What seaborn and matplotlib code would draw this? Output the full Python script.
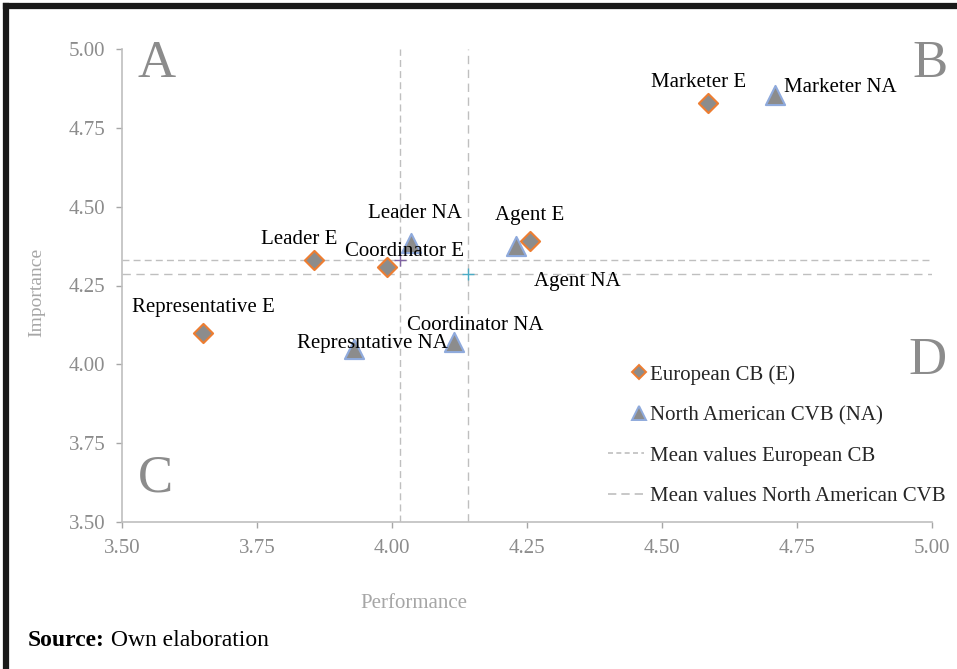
import numpy as np
import pandas as pd
import matplotlib
matplotlib.use("Agg")
import matplotlib.pyplot as plt
from matplotlib.lines import Line2D
from matplotlib.legend_handler import HandlerLine2DCompound
import seaborn as sns

# ---- data ----
roles_e = ["Representative E", "Leader E", "Coordinator E", "Agent E", "Marketer E"]
perf_e = [3.65, 3.855, 3.99, 4.255, 4.585]
imp_e = [4.10, 4.33, 4.31, 4.39, 4.83]

roles_na = ["Represntative NA", "Leader NA", "Coordinator NA", "Agent NA", "Marketer NA"]
perf_na = [3.93, 4.035, 4.115, 4.23, 4.71]
imp_na = [4.05, 4.385, 4.07, 4.375, 4.855]

mean_e = (4.015, 4.33)
mean_na = (4.14, 4.285)

x_ticks = [3.50, 3.75, 4.00, 4.25, 4.50, 4.75, 5.00]
y_ticks = [3.50, 3.75, 4.00, 4.25, 4.50, 4.75, 5.00]

legend_labels = ["European CB (E)", "North American CVB (NA)",
                 "Mean values European CB", "Mean values North American CVB"]

# label offsets in pixels (dx, dy)
off_e = [(0, 25), (-15, 21), (18, 15), (0, 26), (-9, 20)]
off_na = [(18, 5), (4, 29), (21, 17), (18, -35), (9, 7)]
ha_na = ["center", "center", "center", "left", "left"]

sns.set_theme(style="white")
plt.rcParams['font.family'] = ['Liberation Serif', 'DejaVu Serif']

W, H = 957, 669
fig = plt.figure(figsize=(W / 100, H / 100), dpi=100)
ax = fig.add_axes([122 / W, 1 - 522 / H, (932 - 122) / W, (522 - 49) / H])

df_e = pd.DataFrame({"perf": perf_e, "imp": imp_e, "role": roles_e})
df_na = pd.DataFrame({"perf": perf_na, "imp": imp_na, "role": roles_na})

grid_c = "#BFBFBF"
# mean lines
ax.axvline(mean_e[0], color=grid_c, lw=1.0, dashes=(5, 3), zorder=1)
ax.axhline(mean_e[1], color=grid_c, lw=1.0, dashes=(5, 3), zorder=1)
ax.axvline(mean_na[0], color=grid_c, lw=1.0, dashes=(6, 4), zorder=1)
ax.axhline(mean_na[1], color=grid_c, lw=1.0, dashes=(6, 4), zorder=1)
ax.plot([mean_e[0]], [mean_e[1]], marker="+", color="#8064A2", ms=8, mew=1.0, zorder=2)
ax.plot([mean_na[0]], [mean_na[1]], marker="+", color="#4BACC6", ms=8, mew=1.0, zorder=2)

sns.scatterplot(data=df_e, x="perf", y="imp", marker="D", s=95, color="#8C8C8C",
                edgecolor="#ED7D31", linewidth=1.5, ax=ax, zorder=3, legend=False)
sns.scatterplot(data=df_na, x="perf", y="imp", marker="^", s=190, color="#8C8C8C",
                edgecolor="#8FAADC", linewidth=1.5, ax=ax, zorder=3, legend=False)

px2pt = 0.72
for (x, y, lab, (dx, dy)) in zip(perf_e, imp_e, roles_e, off_e):
    ax.annotate(lab, (x, y), xytext=(dx * px2pt, dy * px2pt), textcoords="offset points",
                ha="center", va="center", fontsize=15, color="black", zorder=4)
for (x, y, lab, (dx, dy), ha) in zip(perf_na, imp_na, roles_na, off_na, ha_na):
    ax.annotate(lab, (x, y), xytext=(dx * px2pt, dy * px2pt), textcoords="offset points",
                ha=ha, va="center", fontsize=15, color="black", zorder=4)

ax.set_xlim(3.5, 5.0)
ax.set_ylim(3.5, 5.0)
ax.set_xticks(x_ticks)
ax.set_yticks(y_ticks)
ax.set_xticklabels([f"{v:.2f}" for v in x_ticks])
ax.set_yticklabels([f"{v:.2f}" for v in y_ticks])
ax.set_xlabel("")
ax.set_ylabel("")
ax.tick_params(axis="both", colors="#A6A6A6", labelcolor="#8C8C8C", labelsize=15,
               length=4, width=1, direction="out", bottom=True, left=True)
ax.tick_params(axis="x", pad=8)
ax.tick_params(axis="y", pad=8)
for s in ["top", "right"]:
    ax.spines[s].set_visible(False)
for s in ["left", "bottom"]:
    ax.spines[s].set_color("#BFBFBF")
    ax.spines[s].set_linewidth(1.2)

# axis titles
fig.text(37 / W, 1 - 292 / H, "Importance", rotation=90, ha="center", va="center",
         fontsize=14, color="#A6A6A6")
fig.text(414 / W, 1 - 603 / H, "Performance", ha="center", va="center",
         fontsize=15, color="#A6A6A6")

# quadrant letters
for lab, (px, py) in zip(["A", "B", "C", "D"], [(157, 64), (930, 64), (155, 478), (928, 361)]):
    fig.text(px / W, 1 - py / H, lab, ha="center", va="center", fontsize=38, color="#8C8C8C")

# legend
class RightMarker(HandlerLine2DCompound):
    def get_xdata(self, legend, xdescent, ydescent, width, height, fontsize):
        xd = np.array([-xdescent, -xdescent + width])
        return xd, np.array([-xdescent + width * 0.86])

handles = [
    Line2D([], [], ls="none", marker="D", ms=7, mfc="#8C8C8C", mec="#ED7D31", mew=1.4),
    Line2D([], [], ls="none", marker="^", ms=10, mfc="#8C8C8C", mec="#8FAADC", mew=1.4),
    Line2D([], [], color=grid_c, lw=1.2, dashes=(3, 2)),
    Line2D([], [], color=grid_c, lw=1.2, dashes=(5, 3)),
]
leg = ax.legend(handles, legend_labels, loc="upper left",
                bbox_to_anchor=(608 / W, 1 - 365 / H), bbox_transform=fig.transFigure,
                frameon=False, fontsize=15, labelspacing=1.0, handlelength=1.75,
                handletextpad=0.25, borderpad=0, borderaxespad=0,
                handler_map={h: RightMarker() for h in handles[:2]})

# figure border (left and top)
fig.add_artist(Line2D([5.5 / W, 5.5 / W], [0, 1 - 5.5 / H], transform=fig.transFigure,
                      color="#1A1A1A", lw=4.5, solid_capstyle="projecting"))
fig.add_artist(Line2D([5.5 / W, 1], [1 - 5.5 / H, 1 - 5.5 / H], transform=fig.transFigure,
                      color="#1A1A1A", lw=4.5, solid_capstyle="projecting"))

# source
t1 = fig.text(28 / W, 1 - 640 / H, "Source:", ha="left", va="center", fontsize=17,
              fontweight="bold", color="black")
ax.annotate(" Own elaboration", xy=(1, 0.5), xycoords=t1, ha="left", va="center",
            fontsize=17, color="black", annotation_clip=False)

fig.savefig("out.png", dpi=100)
